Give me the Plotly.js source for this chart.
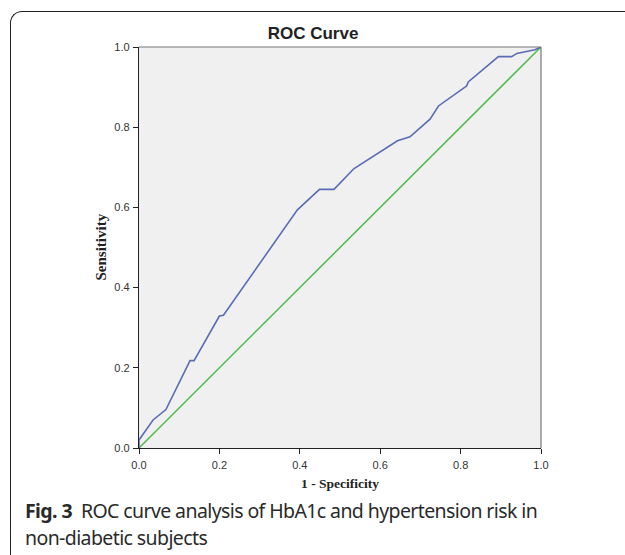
<!DOCTYPE html>
<html>
<head>
<meta charset="utf-8">
<script src="https://cdn.plot.ly/plotly-3.0.1.min.js"></script>
<style>
  html, body { margin: 0; padding: 0; background: #fff; }
  #wrap { position: relative; width: 625px; height: 555px; overflow: hidden; }
  #chart { position: absolute; left: 0; top: 0; width: 625px; height: 555px; }
  #frame { position: absolute; left: 10px; top: 11px; width: 700px; height: 560px;
           border-left: 1.3px solid #222; border-top: 1.3px solid #222;
           border-top-left-radius: 12px; border-bottom-left-radius: 12px; box-sizing: border-box; }
  #caption { position: absolute; left: 25px; top: 497px; width: 595px; white-space: nowrap;
             font-family: "Noto Sans", "Open Sans", sans-serif; font-size: 19.5px; line-height: 27px;
             color: #2a2a2a; letter-spacing: -0.6px; }
  #caption b { font-weight: 700; }
</style>
</head>
<body>
<div id="wrap">
  <div id="chart"></div>
  <div id="frame"></div>
  <div id="caption"><b>Fig. 3</b>&nbsp; ROC curve analysis of HbA1c and hypertension risk in<br>non-diabetic subjects</div>
</div>
<script>
// Data
var fpr = [0, 0, 0.035, 0.067, 0.127, 0.137, 0.200, 0.210, 0.394, 0.449, 0.485, 0.535, 0.643, 0.674, 0.724, 0.745, 0.811, 0.815, 0.819, 0.894, 0.927, 0.940, 0.985, 1.0];
var tpr = [0, 0.020, 0.070, 0.096, 0.218, 0.218, 0.329, 0.331, 0.594, 0.645, 0.645, 0.697, 0.766, 0.776, 0.820, 0.853, 0.900, 0.903, 0.913, 0.976, 0.976, 0.984, 0.993, 1.0];
var refX = [0, 1];
var refY = [0, 1];
var tickVals = [0, 0.2, 0.4, 0.6, 0.8, 1.0];
var tickText = ["0.0", "0.2", "0.4", "0.6", "0.8", "1.0"];

var traces = [
  { x: refX, y: refY, mode: "lines", line: { color: "#4cbb4c", width: 1.5 }, hoverinfo: "skip" },
  { x: fpr, y: tpr, mode: "lines", line: { color: "#5a6cb5", width: 1.6 }, hoverinfo: "skip" }
];

var axisCommon = {
  range: [0, 1], tickvals: tickVals, ticktext: tickText,
  ticks: "outside", ticklen: 5, tickwidth: 1, tickcolor: "#222",
  showgrid: false, zeroline: false, showline: true, linecolor: "#222", linewidth: 1.2,
  tickfont: { family: "Liberation Sans, Arial, sans-serif", size: 11, color: "#333" },
  fixedrange: true
};

var layout = {
  width: 625, height: 555,
  margin: { l: 139, r: 84, t: 47, b: 107 },
  paper_bgcolor: "rgba(0,0,0,0)",
  plot_bgcolor: "#f0f0f0",
  showlegend: false,
  title: { text: "<b>ROC Curve</b>", x: 313 / 625, xref: "container", xanchor: "center",
           y: 1 - 33 / 555, yref: "container", yanchor: "middle",
           font: { family: "Liberation Sans, Arial, sans-serif", size: 17, color: "#222" } },
  xaxis: Object.assign({}, axisCommon, { ticklabelstandoff: 2 }),
  yaxis: Object.assign({}, axisCommon, { ticklabelstandoff: 1 }),
  shapes: [
    { type: "line", xref: "paper", yref: "paper", x0: 0, x1: 1, y0: 1, y1: 1, line: { color: "#777", width: 1.2 } },
    { type: "line", xref: "paper", yref: "paper", x0: 1, x1: 1, y0: 0, y1: 1, line: { color: "#777", width: 1.2 } }
  ],
  annotations: [
    { text: "<b>Sensitivity</b>", xref: "paper", yref: "paper", x: (100 - 139) / 402, y: 0.5,
      textangle: -90, showarrow: false, xanchor: "center", yanchor: "middle",
      font: { family: "Liberation Serif, Times New Roman, serif", size: 15, color: "#222" } },
    { text: "<b>1 - Specificity</b>", xref: "paper", yref: "paper", x: 0.5, y: (448 - 483) / 401,
      showarrow: false, xanchor: "center", yanchor: "middle",
      font: { family: "Liberation Serif, Times New Roman, serif", size: 13.5, color: "#222" } }
  ]
};

Plotly.newPlot("chart", traces, layout, { staticPlot: true, displayModeBar: false });
</script>
</body>
</html>
